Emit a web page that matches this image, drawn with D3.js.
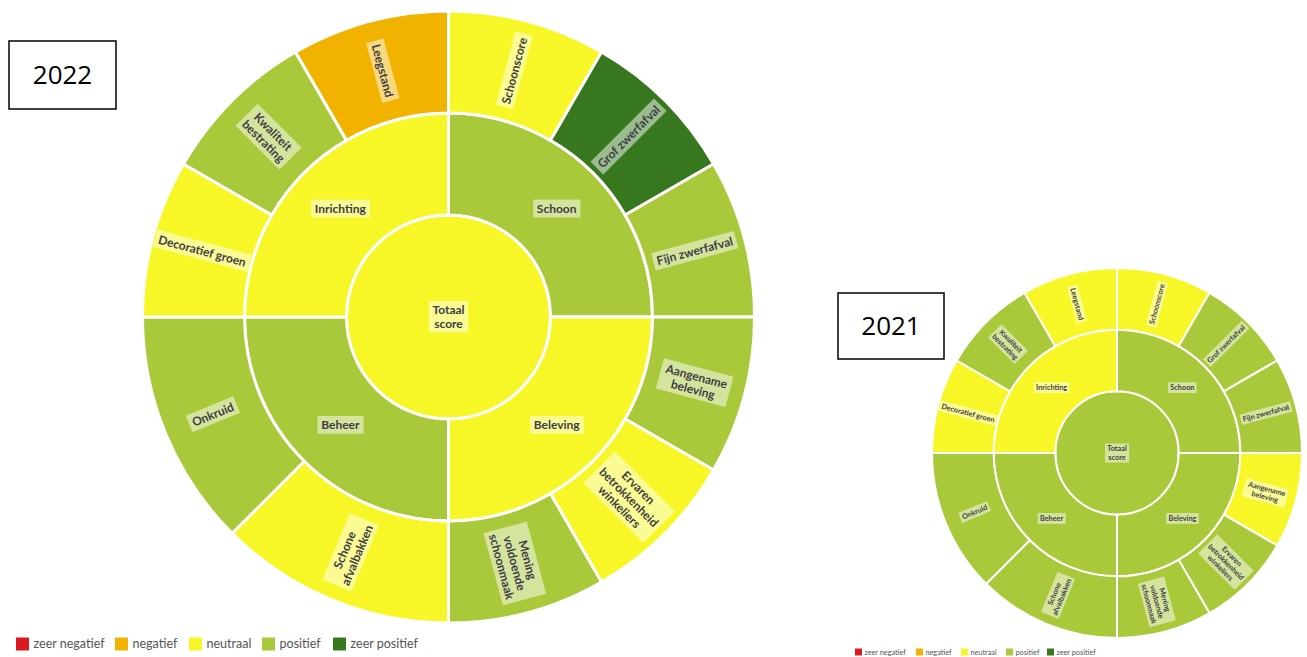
<!DOCTYPE html>
<html><head><meta charset="utf-8">
<script src="https://cdn.jsdelivr.net/npm/d3@7"></script>
<style>body{margin:0;background:#fff;} svg{display:block;}</style>
</head><body>
<svg id="c" width="1307" height="657"></svg>
<script>
// ---- data ----
const legendLabels = ["zeer negatief","negatief","neutraal","positief","zeer positief"];
const legendColors = ["#d91a1f","#f2b300","#f7f727","#a9c93a","#37781f"];
const rootLabel = ["Totaal","score"];
const groups = ["Schoon","Beleving","Beheer","Inrichting"];
const categories = ["Schoonscore","Grof zwerfafval","Fijn zwerfafval","Aangename beleving","Ervaren betrokkenheid winkeliers","Mening voldoende schoonmaak","Schone afvalbakken","Onkruid","Decoratief groen","Kwaliteit bestrating","Leegstand"];
const categoryLines = [["Schoonscore"],["Grof zwerfafval"],["Fijn zwerfafval"],["Aangename","beleving"],["Ervaren","betrokkenheid","winkeliers"],["Mening","voldoende","schoonmaak"],["Schone","afvalbakken"],["Onkruid"],["Decoratief groen"],["Kwaliteit","bestrating"],["Leegstand"]];
const categoryGroup = ["Schoon","Schoon","Schoon","Beleving","Beleving","Beleving","Beheer","Beheer","Inrichting","Inrichting","Inrichting"];
const categoryWeight = [1,1,1,1,1,1,1.5,1.5,1,1,1];
const total2022 = "neutraal";
const groups2022 = ["positief","neutraal","positief","neutraal"];
const scores2022 = ["neutraal","zeer positief","positief","positief","neutraal","positief","neutraal","positief","neutraal","positief","negatief"];
const total2021 = "positief";
const groups2021 = ["positief","positief","positief","neutraal"];
const scores2021 = ["neutraal","positief","positief","neutraal","positief","positief","positief","positief","neutraal","positief","neutraal"];
const years = ["2022","2021"];

const color = d3.scaleOrdinal(legendLabels, legendColors);
const svg = d3.select("#c");

function buildTree(total, gScores, cScores){
  return {name:rootLabel.join(" "), lines:rootLabel, score:total,
    children: groups.map((g,gi)=>({name:g, lines:[g], score:gScores[gi],
      children: categories.map((c,i)=>({name:c, lines:categoryLines[i], score:cScores[i], w:categoryWeight[i], g:categoryGroup[i]}))
        .filter(d=>d.g===g)}))};
}

function drawSunburst(data, cx, cy, R, fs, sw){
  const root = d3.partition().size([2*Math.PI, 3])(
    d3.hierarchy(data).sum(d=>d.children?0:d.w));
  const r = d3.scaleLinear().domain([0,3]).range([0,R]);
  const arc = d3.arc().startAngle(d=>d.x0).endAngle(d=>d.x1)
    .innerRadius(d=>r(d.y0)).outerRadius(d=>r(d.y1));
  const g = svg.append("g").attr("transform",`translate(${cx},${cy})`);
  g.selectAll("path").data(root.descendants()).join("path")
    .attr("d",arc).attr("fill",d=>color(d.data.score))
    .attr("stroke","#fff").attr("stroke-width",sw);
  const lh = fs*1.12;
  const lab = g.selectAll("g.lab").data(root.descendants()).join("g").attr("class","lab")
    .attr("transform",d=>{
      if(d.depth===0) return "translate(0,0)";
      const a = (d.x0+d.x1)/2*180/Math.PI, rr = r((d.y0+d.y1)/2);
      if(d.depth===1){
        const t=(d.x0+d.x1)/2;
        return `translate(${rr*Math.sin(t)},${-rr*Math.cos(t)})`;
      }
      return `rotate(${a-90}) translate(${rr},0) rotate(${a<180?0:180})`;
    });
  lab.each(function(d){
    const s = d3.select(this);
    const n = d.data.lines.length;
    const rect = s.append("rect").attr("fill","#fff").attr("fill-opacity",0.5);
    const t = s.append("text").attr("text-anchor","middle")
      .attr("font-family","Lato, 'Noto Sans', sans-serif").attr("font-weight",700)
      .attr("font-size",fs).attr("fill","#3d3d45");
    d.data.lines.forEach((ln,i)=>{
      t.append("tspan").attr("x",0).attr("y",(i-(n-1)/2)*lh).attr("dy","0.35em").text(ln);
    });
    const b = t.node().getBBox();
    const px = fs*0.3, py = fs*0.12;
    rect.attr("x",b.x-px).attr("y",b.y-py).attr("width",b.width+2*px).attr("height",b.height+2*py);
  });
}

function drawBox(x,y,w,h,label,fs){
  svg.append("rect").attr("x",x).attr("y",y).attr("width",w).attr("height",h)
    .attr("fill","#fff").attr("stroke","#000").attr("stroke-width",1.5);
  svg.append("text").attr("x",x+w/2).attr("y",y+h/2).attr("dy","0.35em")
    .attr("text-anchor","middle").attr("font-family","'Open Sans', 'Noto Sans', sans-serif")
    .attr("font-size",fs).attr("fill","#000").text(label);
}

function drawLegend(x0,y,positions,size,fs){
  const lg = svg.append("g");
  legendLabels.forEach((l,i)=>{
    lg.append("rect").attr("x",x0+positions[i]).attr("y",y-size/2).attr("width",size).attr("height",size).attr("fill",legendColors[i]);
    lg.append("text").attr("x",x0+positions[i]+size+size*0.35).attr("y",y).attr("dy","0.35em")
      .attr("font-family","Lato, 'Noto Sans', sans-serif").attr("font-size",fs).attr("fill","#555").text(l);
  });
}

drawSunburst(buildTree(total2022,groups2022,scores2022), 448.5, 317, 306, 12, 3);
drawSunburst(buildTree(total2021,groups2021,scores2021), 1117, 453, 185, 7.3, 2);
drawBox(9,41,107,68,years[0],26);
drawBox(838,293,106,66,years[1],26);
drawLegend(16,644,[0,99,173,246,317],13,12.5);
drawLegend(855,652,[0,61,106,151,192],7,7.3);
</script>
</body></html>
